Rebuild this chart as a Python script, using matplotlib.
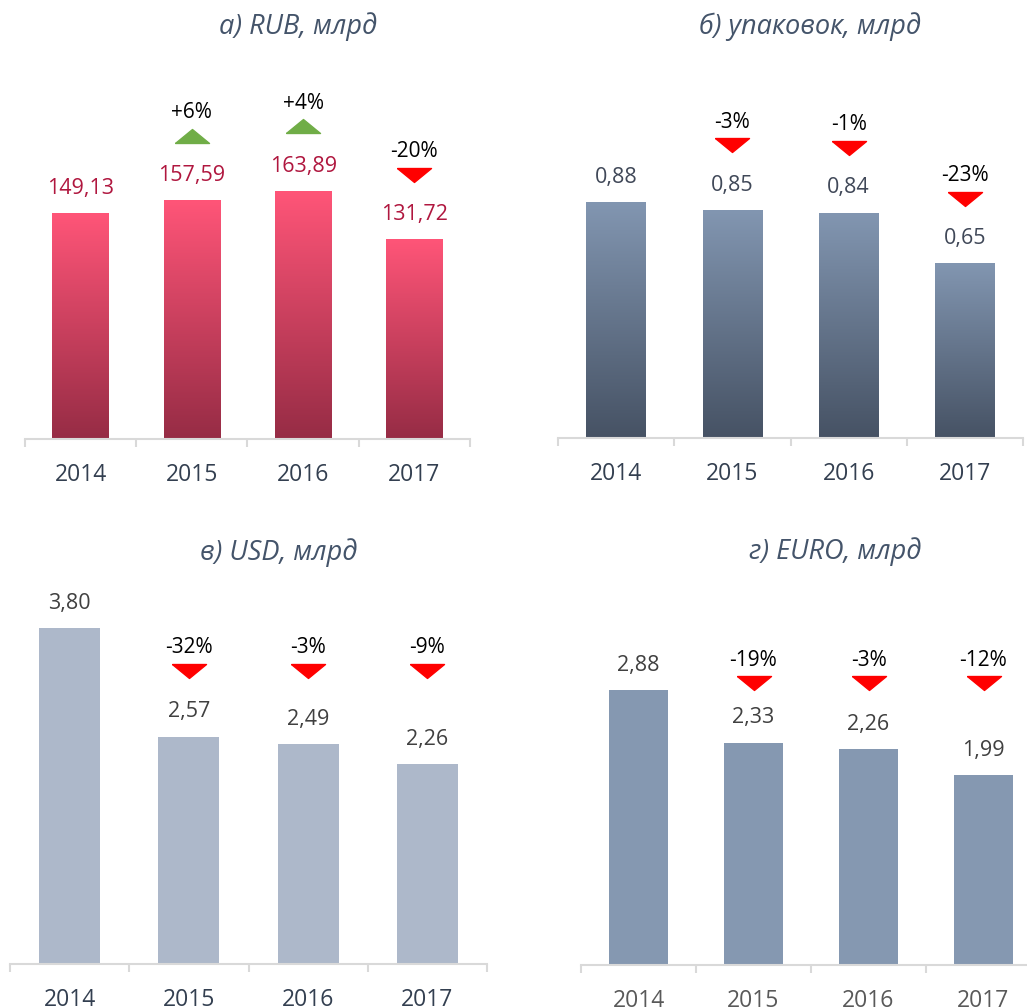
import numpy as np
import matplotlib
matplotlib.use('Agg')
import matplotlib.pyplot as plt
from matplotlib.colors import LinearSegmentedColormap
from matplotlib.transforms import offset_copy, blended_transform_factory

plt.rcParams['font.family'] = ['Open Sans', 'DejaVu Sans']

# данные
years = ['2014', '2015', '2016', '2017']
rub = [149.13, 157.59, 163.89, 131.72]
packs = [0.88, 0.85, 0.84, 0.65]
usd = [3.80, 2.57, 2.49, 2.26]
euro = [2.88, 2.33, 2.26, 1.99]
rub_chg = [None, '+6%', '+4%', '-20%']
packs_chg = [None, '-3%', '-1%', '-23%']
usd_chg = [None, '-32%', '-3%', '-9%']
euro_chg = [None, '-19%', '-3%', '-12%']

W, H = 1027, 1008
fig = plt.figure(figsize=(W / 100, H / 100), dpi=100)

TITLE_C = '#44546A'
tri_up = [(-1, -0.41), (1, -0.41), (0, 0.41), (-1, -0.41)]
tri_dn = [(x, -y) for x, y in tri_up]


def make_ax(left, right, base, top):
    return fig.add_axes([left / W, 1 - base / H, (right - left) / W, (base - top) / H])


def panel(rect, vals, chg, ylim, title, title_xy, colors, lab_c, tick_c, tri_fixed=None):
    ax = make_ax(*rect)
    x = np.arange(len(vals))
    bars = ax.bar(x, vals, width=0.51, color=colors[0], zorder=2)
    if len(colors) > 1:
        # градиент сверху вниз
        cmap = LinearSegmentedColormap.from_list('g', [colors[1], colors[0]])
        grad = np.linspace(0, 1, 256).reshape(-1, 1)
        for b in bars:
            b.set_facecolor('none')
            ax.imshow(grad, cmap=cmap, aspect='auto', origin='lower', zorder=2,
                      extent=(b.get_x(), b.get_x() + b.get_width(), 0, b.get_height()))
    ax.set_xlim(-0.5, len(vals) - 0.5)
    ax.set_ylim(0, ylim)

    for s in ['top', 'right', 'left']:
        ax.spines[s].set_visible(False)
    ax.spines['bottom'].set_color('#D9D9D9')
    ax.spines['bottom'].set_linewidth(1.5)
    ax.set_yticks([])
    ax.set_xticks(x)
    ax.set_xticklabels(years, fontsize=16.5, color=tick_c)
    ax.tick_params(axis='x', which='major', length=0, pad=17)
    ax.set_xticks(np.arange(len(vals) + 1) - 0.5, minor=True)
    ax.tick_params(axis='x', which='minor', length=6, width=1.5, color='#D9D9D9')

    # подписи значений
    for i, v in enumerate(vals):
        tr = offset_copy(ax.transData, fig=fig, y=25, units='dots')
        ax.text(i, v, f'{v:.2f}'.replace('.', ','), transform=tr, ha='center', va='center',
                fontsize=15.5, color=lab_c)

    # треугольники изменений
    for i, c in enumerate(chg):
        if c is None:
            continue
        up = c.startswith('+')
        if tri_fixed is None:
            tr = offset_copy(ax.transData, fig=fig, y=65, units='dots')
            yy = vals[i]
        else:
            tr = blended_transform_factory(ax.transData, ax.transAxes)
            yy = tri_fixed
        ax.plot([i], [yy], transform=tr, linestyle='none', marker=tri_up if up else tri_dn,
                ms=24.5, color='#70AD47' if up else '#FF0000', clip_on=False, zorder=3)
        tr2 = offset_copy(tr, fig=fig, y=23, units='dots')
        ax.text(i, yy, c, transform=tr2, ha='center', va='center', fontsize=15,
                color='black', zorder=4)

    fig.text(title_xy[0] / W, 1 - title_xy[1] / H, title, ha='center', va='center',
             fontsize=19.5, style='italic', color=TITLE_C)
    return ax


panel((25, 470, 439, 61), rub, rub_chg, 250, 'а) RUB, млрд', (298, 27),
      ['#FF5578', '#962C45'], '#B0173F', '#333F50')
panel((558, 1023, 438, 63), packs, packs_chg, 1.4, 'б) упаковок, млрд', (810, 27),
      ['#8296B1', '#465264'], '#404858', '#333F50')
panel((10, 487, 964, 593), usd, usd_chg, 4.2, 'в) USD, млрд', (279, 553),
      ['#ADB8CA'], '#404040', '#333F50', tri_fixed=0.79)
panel((581, 1041, 965, 593), euro, euro_chg, 3.9, 'г) EURO, млрд', (835, 552),
      ['#8598B1'], '#404040', '#595959', tri_fixed=0.758)

fig.savefig('out.png', dpi=100)
